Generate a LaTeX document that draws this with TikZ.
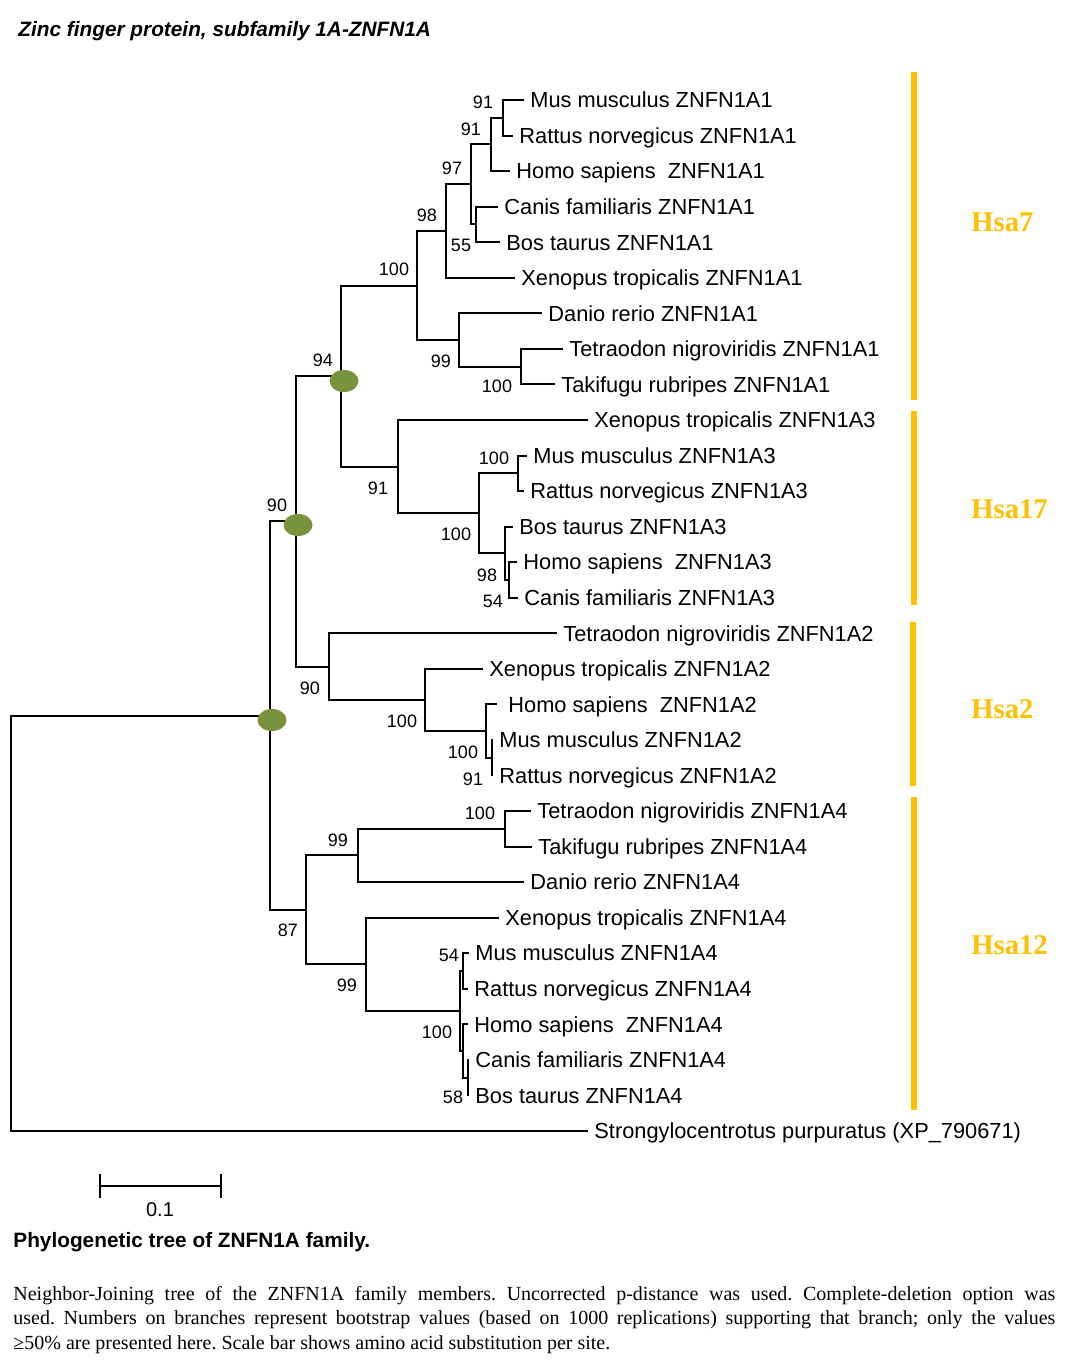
\documentclass[tikz,border=0pt]{standalone}
\usepackage{fontspec}
\setmainfont{Liberation Serif}
\setsansfont{Liberation Sans}
\usepackage{tikz}
\usetikzlibrary{calc,shapes.geometric}
\definecolor{hsagold}{RGB}{255,192,0}
\definecolor{dupgreen}{RGB}{119,147,60}
\tikzset{
  branch/.style={draw=black,line width=1pt},
  leaf/.style={anchor=west,inner xsep=3pt,inner ysep=0pt,text height=7.8pt,text depth=0pt,
    font=\sffamily\fontsize{10.9}{12}\selectfont},
  boot/.style={inner sep=0pt,text height=6.4pt,text depth=0pt,
    font=\sffamily\fontsize{9}{10}\selectfont},
  chrbar/.style={draw=hsagold,line width=3pt},
  chrlabel/.style={anchor=west,inner sep=0pt,text height=9.5pt,text depth=0pt,text=hsagold,
    font=\bfseries\fontsize{14.3}{16}\selectfont},
  dupmark/.style={ellipse,fill=dupgreen,minimum width=14.5pt,minimum height=11pt,inner sep=0pt},
}

\begin{document}
\frenchspacing
\begin{tikzpicture}[x=0.5pt,y=-0.5pt]
\useasboundingbox[fill=white] (0,0) rectangle (1082,1367);
% title
\node[anchor=west,inner sep=0pt,font=\sffamily\bfseries\itshape\fontsize{10.4}{12}\selectfont] (title) at (18,31) {Zinc finger protein, subfamily 1A-ZNFN1A};

% leaves, Hsa7
\node[leaf] (mus1) at (524,100) {Mus musculus ZNFN1A1};
\node[leaf] (rat1) at (513,135.5) {Rattus norvegicus ZNFN1A1};
\node[leaf] (hom1) at (510,171.1) {Homo sapiens\ \ ZNFN1A1};
\node[leaf] (can1) at (498,206.6) {Canis familiaris ZNFN1A1};
\node[leaf] (bos1) at (500,242.2) {Bos taurus ZNFN1A1};
\node[leaf] (xen1) at (515,277.7) {Xenopus tropicalis ZNFN1A1};
\node[leaf] (dan1) at (542,313.3) {Danio rerio ZNFN1A1};
\node[leaf] (tet1) at (563,348.8) {Tetraodon nigroviridis ZNFN1A1};
\node[leaf] (tak1) at (555,384.4) {Takifugu rubripes ZNFN1A1};
% leaves, Hsa17
\node[leaf] (xen3) at (588,420) {Xenopus tropicalis ZNFN1A3};
\node[leaf] (mus3) at (527,455.5) {Mus musculus ZNFN1A3};
\node[leaf] (rat3) at (524,491) {Rattus norvegicus ZNFN1A3};
\node[leaf] (bos3) at (513,526.6) {Bos taurus ZNFN1A3};
\node[leaf] (hom3) at (517,562.1) {Homo sapiens\ \ ZNFN1A3};
\node[leaf] (can3) at (518,597.7) {Canis familiaris ZNFN1A3};
% leaves, Hsa2
\node[leaf] (tet2) at (557,633.2) {Tetraodon nigroviridis ZNFN1A2};
\node[leaf] (xen2) at (483,668.8) {Xenopus tropicalis ZNFN1A2};
\node[leaf] (hom2) at (497,704.3) {\hspace{2.5pt}Homo sapiens\ \ ZNFN1A2};
\node[leaf] (mus2) at (493,739.9) {Mus musculus ZNFN1A2};
\node[leaf] (rat2) at (493,775.4) {Rattus norvegicus ZNFN1A2};
% leaves, Hsa12
\node[leaf] (tet4) at (531,811) {Tetraodon nigroviridis ZNFN1A4};
\node[leaf] (tak4) at (532,846.5) {Takifugu rubripes ZNFN1A4};
\node[leaf] (dan4) at (524,882) {Danio rerio ZNFN1A4};
\node[leaf] (xen4) at (499,917.6) {Xenopus tropicalis ZNFN1A4};
\node[leaf] (mus4) at (469,953.1) {Mus musculus ZNFN1A4};
\node[leaf] (rat4) at (468,988.7) {Rattus norvegicus ZNFN1A4};
\node[leaf] (hom4) at (468,1024.2) {Homo sapiens\ \ ZNFN1A4};
\node[leaf] (can4) at (469,1059.8) {Canis familiaris ZNFN1A4};
\node[leaf] (bos4) at (469,1095.3) {Bos taurus ZNFN1A4};
% outgroup
\node[leaf] (strong) at (588,1130.9) {Strongylocentrotus purpuratus (XP\_790671)};

% inner nodes
\coordinate (root) at (11,923);
\coordinate (nI) at (270,715.6);
\coordinate (nA) at (296,521.3);
\coordinate (nB) at (341,376);
\coordinate (nD) at (417,285.5);
\coordinate (nF) at (446,231.1);
\coordinate (nK) at (471,184.4);
\coordinate (nL) at (491,144.4);
\coordinate (nN) at (503,117.8);
\coordinate (nM) at (476,224.4);
\coordinate (nG) at (459,340);
\coordinate (nTT1) at (521,366.6);
\coordinate (nE) at (398,466.6);
\coordinate (nP) at (479,513.3);
\coordinate (nMR3) at (518,473.3);
\coordinate (nBHC3) at (505,553.3);
\coordinate (nHC3) at (509,579.9);
\coordinate (nC) at (329,666.5);
\coordinate (nQ) at (425,699.9);
\coordinate (nHMR2) at (486,731);
\coordinate (nMR2) at (492,757.6);
\coordinate (nT) at (306,909.8);
\coordinate (nS) at (358,855.4);
\coordinate (nTT4) at (505,828.8);
\coordinate (nU) at (366,964.3);
\coordinate (nV) at (460,1010.9);
\coordinate (nMR4) at (463,970.9);
\coordinate (nHCB4) at (463,1050.9);
\coordinate (nCB4) at (468,1077.6);

% branches
\draw[branch] (root) |- (nI) (root) |- (strong.west);
\draw[branch] (nI) |- (nA) (nI) |- (nT);
\draw[branch] (nA) |- (nB) (nA) |- (nC);
\draw[branch] (nB) |- (nD) (nB) |- (nE);
\draw[branch] (nD) |- (nF) (nD) |- (nG);
\draw[branch] (nF) |- (nK) (nF) |- (xen1.west);
\draw[branch] (nK) |- (nL) (nK) |- (nM);
\draw[branch] (nL) |- (nN) (nL) |- (hom1.west);
\draw[branch] (nN) |- (mus1.west) (nN) |- (rat1.west);
\draw[branch] (nM) |- (can1.west) (nM) |- (bos1.west);
\draw[branch] (nG) |- (dan1.west) (nG) |- (nTT1);
\draw[branch] (nTT1) |- (tet1.west) (nTT1) |- (tak1.west);
\draw[branch] (nE) |- (xen3.west) (nE) |- (nP);
\draw[branch] (nP) |- (nMR3) (nP) |- (nBHC3);
\draw[branch] (nMR3) |- (mus3.west) (nMR3) |- (rat3.west);
\draw[branch] (nBHC3) |- (bos3.west) (nBHC3) |- (nHC3);
\draw[branch] (nHC3) |- (hom3.west) (nHC3) |- (can3.west);
\draw[branch] (nC) |- (tet2.west) (nC) |- (nQ);
\draw[branch] (nQ) |- (xen2.west) (nQ) |- (nHMR2);
\draw[branch] (nHMR2) |- (hom2.west) (nHMR2) |- (nMR2);
\draw[branch] (nMR2) |- (mus2.west) (nMR2) |- (rat2.west);
\draw[branch] (nT) |- (nS) (nT) |- (nU);
\draw[branch] (nS) |- (nTT4) (nS) |- (dan4.west);
\draw[branch] (nTT4) |- (tet4.west) (nTT4) |- (tak4.west);
\draw[branch] (nU) |- (xen4.west) (nU) |- (nV);
\draw[branch] (nV) |- (nMR4) (nV) |- (nHCB4);
\draw[branch] (nMR4) |- (mus4.west) (nMR4) |- (rat4.west);
\draw[branch] (nHCB4) |- (hom4.west) (nHCB4) |- (nCB4);
\draw[branch] (nCB4) |- (can4.west) (nCB4) |- (bos4.west);

% bootstrap values
\node[boot] (bsN) at (483,102) {91};
\node[boot] (bsL) at (471,129) {91};
\node[boot] (bsK) at (452,168) {97};
\node[boot] (bsF) at (427,215) {98};
\node[boot] (bsM) at (461,245) {55};
\node[boot] (bsD) at (394,269) {100};
\node[boot] (bsG) at (441,361) {99};
\node[boot] (bsTT1) at (497,386) {100};
\node[boot] (bsB) at (323,360) {94};
\node[boot] (bsE) at (378,488) {91};
\node[boot] (bsMR3) at (494,458) {100};
\node[boot] (bsP) at (456,534) {100};
\node[boot] (bsBHC3) at (487,575) {98};
\node[boot] (bsHC3) at (493,601) {54};
\node[boot] (bsA) at (277,505) {90};
\node[boot] (bsC) at (310,688) {90};
\node[boot] (bsQ) at (402,721) {100};
\node[boot] (bsHMR2) at (463,752) {100};
\node[boot] (bsMR2) at (473,779) {91};
\node[boot] (bsTT4) at (480,813) {100};
\node[boot] (bsS) at (338,840) {99};
\node[boot] (bsT) at (288,930) {87};
\node[boot] (bsU) at (347,985) {99};
\node[boot] (bsMR4) at (449,955) {54};
\node[boot] (bsV) at (437,1032) {100};
\node[boot] (bsCB4) at (453,1097) {58};

% duplication marks
\node[dupmark] (dup1) at (344,381) {};
\node[dupmark] (dup2) at (298,525) {};
\node[dupmark] (dup3) at (272,720) {};

% chromosome bars
\draw[chrbar] (914,72) -- (914,400);
\draw[chrbar] (914,411) -- (914,605);
\draw[chrbar] (913,622) -- (913,786);
\draw[chrbar] (914,797) -- (914,1110);
\node[chrlabel] (hsa7) at (971,222) {Hsa7};
\node[chrlabel] (hsa17) at (971,509) {Hsa17};
\node[chrlabel] (hsa2) at (971,709) {Hsa2};
\node[chrlabel] (hsa12) at (971,945) {Hsa12};

% scale bar
\coordinate (sbl) at (100,1186);
\coordinate (sbr) at (221,1186);
\draw[branch] (sbl) -- (sbr);
\draw[branch] ($(sbl)+(0,-12)$) -- ($(sbl)+(0,12)$);
\draw[branch] ($(sbr)+(0,-12)$) -- ($(sbr)+(0,12)$);
\node[boot,font=\sffamily\fontsize{10}{11}\selectfont,text height=7.2pt] (sblabel) at (160,1209) {0.1};

% caption
\node[anchor=west,inner sep=0pt,font=\sffamily\bfseries\fontsize{10.4}{12}\selectfont] (caption) at (13,1242) {Phylogenetic tree of ZNFN1A family.};
\node[anchor=north west,inner sep=0pt,text width=521pt,align=justify,font=\fontsize{10}{12.25}\selectfont] (legend) at (13,1286)
{Neighbor-Joining tree of the ZNFN1A family members. Uncorrected p-distance was used. Complete-deletion option was\linebreak
used. Numbers on branches represent bootstrap values (based on 1000 replications) supporting that branch; only the values\linebreak
≥50\% are presented here. Scale bar shows amino acid substitution per site.};
\end{tikzpicture}
\end{document}
